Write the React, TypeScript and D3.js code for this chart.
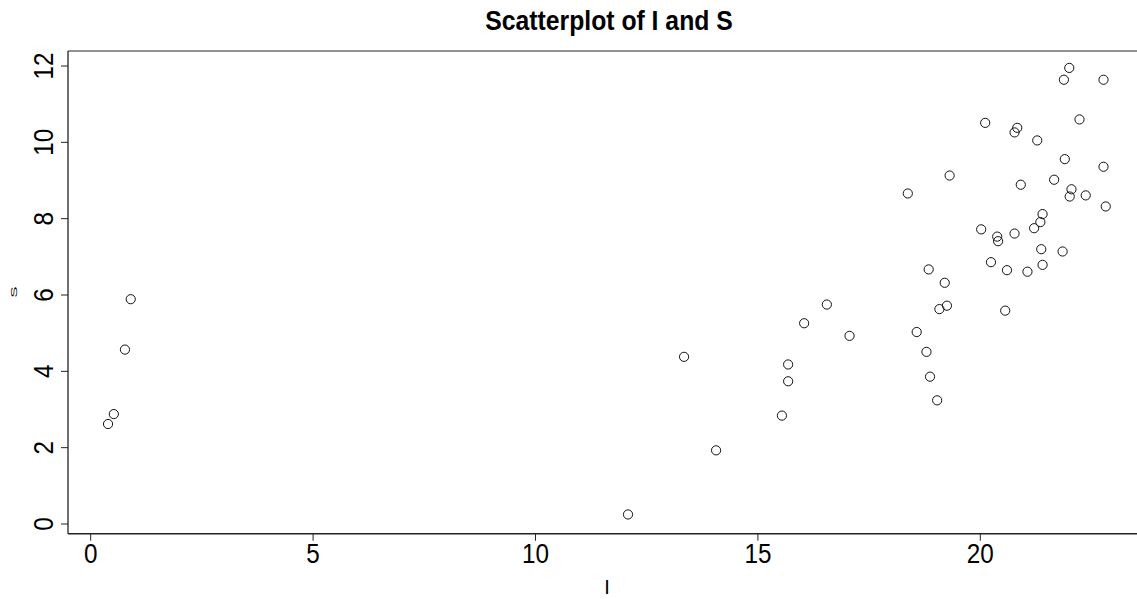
import React from "react";
import * as d3 from "d3";

const iValues = [
  0.39, 0.52, 0.77, 0.9,
  12.08, 13.34, 14.06, 15.54, 15.68, 15.68, 16.04, 16.55, 17.06,
  18.37, 18.57, 18.79, 18.87, 19.03, 18.84, 19.2, 19.25, 19.08, 19.31,
  20.02, 20.11, 20.24, 20.38, 20.4, 20.56, 20.6, 20.77, 20.77, 20.83, 20.91,
  21.06, 21.21, 21.28, 21.35, 21.37, 21.4, 21.4, 21.66, 21.85, 21.88, 21.9,
  22.0, 22.01, 22.05, 22.23, 22.37, 22.77, 22.77, 22.82,
];
const sValues = [
  2.62, 2.88, 4.57, 5.89,
  0.25, 4.38, 1.93, 2.84, 3.74, 4.18, 5.26, 5.75, 4.93,
  8.66, 5.03, 4.51, 3.86, 3.24, 6.67, 6.32, 5.72, 5.63, 9.13,
  7.72, 10.51, 6.86, 7.53, 7.41, 5.59, 6.65, 7.61, 10.26, 10.38, 8.89,
  6.61, 7.75, 10.05, 7.91, 7.2, 8.12, 6.79, 9.02, 7.14, 11.64, 9.56,
  11.95, 8.58, 8.77, 10.6, 8.61, 11.64, 9.36, 8.32,
];
const xTicks = [0, 5, 10, 15, 20];
const yTicks = [0, 2, 4, 6, 8, 10, 12];
const title = "Scatterplot of I and S";
const xLabel = "I";
const yLabel = "S";

export default function App() {
  const W = 1137, H = 599;
  const x = d3.scaleLinear().domain([0, 20]).range([90.7, 980.3]);
  const y = d3.scaleLinear().domain([0, 12]).range([524, 66]);
  const left = 68, top = 51, bottom = 533.7, right = 1137;
  const font = "'Liberation Sans', Arial, sans-serif";
  const points = iValues.map((v, k) => ({ i: v, s: sValues[k] }));
  return (
    <svg width={W} height={H} style={{ position: "absolute", left: 0, top: 0, background: "#fff" }}>
      <rect x={0} y={0} width={W} height={H} fill="#fff" />
      <text transform={`translate(609,29.5) scale(0.9,1)`} textAnchor="middle" fontFamily={font} fontWeight="bold" fontSize={27.5} fill="#000">{title}</text>
      <line x1={left} x2={right} y1={top} y2={top} stroke="#6e6e6e" strokeWidth={1.3} />
      <line x1={left} x2={left} y1={top} y2={bottom} stroke="#222" strokeWidth={1.3} />
      <line x1={left} x2={right} y1={bottom} y2={bottom} stroke="#222" strokeWidth={1.5} />
      {xTicks.map((t) => (
        <g key={"x" + t}>
          <line x1={x(t)} x2={x(t)} y1={bottom} y2={bottom + 7} stroke="#222" strokeWidth={1} />
          <text transform={`translate(${x(t)},562.7) scale(0.9,1)`} textAnchor="middle" fontFamily={font} fontSize={27} fill="#000">{t}</text>
        </g>
      ))}
      {yTicks.map((t) => (
        <g key={"y" + t}>
          <line x1={left - 7} x2={left} y1={y(t)} y2={y(t)} stroke="#222" strokeWidth={1} />
          <text transform={`translate(52.7,${y(t)}) rotate(-90) scale(0.9,1)`} textAnchor="middle" fontFamily={font} fontSize={27} fill="#000">{t}</text>
        </g>
      ))}
      <text transform="translate(607,594)" textAnchor="middle" fontFamily={font} fontSize={20} fill="#000">{xLabel}</text>
      <text transform={`translate(16.7,292) rotate(-90) scale(1.3,0.75)`} textAnchor="middle" fontFamily={font} fontSize={13} fill="#000">{yLabel}</text>
      {points.map((p, k) => (
        <circle key={k} cx={x(p.i)} cy={y(p.s)} r={4.6} fill="none" stroke="#111" strokeWidth={1} />
      ))}
    </svg>
  );
}
